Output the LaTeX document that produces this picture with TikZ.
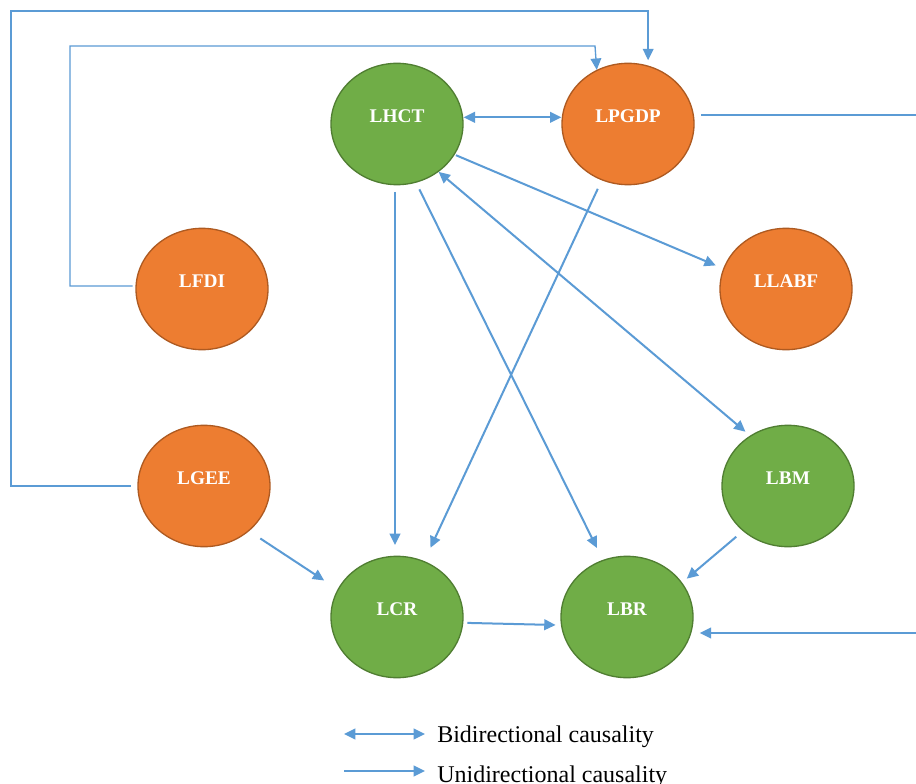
\documentclass[tikz,border=0pt]{standalone}
\usepackage{fontspec}
\setmainfont{Liberation Serif}
\usetikzlibrary{shapes.geometric,arrows.meta,calc}
\definecolor{gfill}{HTML}{70AD47}
\definecolor{gdraw}{HTML}{507E32}
\definecolor{ofill}{HTML}{ED7D31}
\definecolor{odraw}{HTML}{AE5A21}
\definecolor{lblue}{HTML}{5B9BD5}
\begin{document}
\begin{tikzpicture}[x=0.75pt,y=-0.75pt,
  var/.style={ellipse, minimum width=99pt, minimum height=91pt, inner sep=0pt, line width=1pt},
  lbl/.style={text=white, font=\fontsize{14.5}{16}\selectfont\bfseries, inner sep=0pt, yshift=5.8pt},
  gvar/.style={var, fill=gfill, draw=gdraw, label={[lbl]center:#1}},
  ovar/.style={var, fill=ofill, draw=odraw, label={[lbl]center:#1}},
  tip/.tip={Triangle[length=8.5pt,width=8pt]},
  conn/.style={draw=lblue, line width=1.5pt},
  uni/.style={conn, -tip},
  bi/.style={conn, tip-tip},
  thinline/.style={draw=lblue, line width=0.8pt},
  legtext/.style={anchor=base west, font=\fontsize{18}{20}\selectfont, inner sep=0pt}
]
\clip (0,0) rectangle (916,784);
\fill[white] (0,0) rectangle (916,784);

\node[gvar=LHCT]  (LHCT)  at (397,124) {};
\node[ovar=LPGDP] (LPGDP) at (628,124) {};
\node[ovar=LFDI]  (LFDI)  at (202,289) {};
\node[ovar=LLABF] (LLABF) at (786,289) {};
\node[ovar=LGEE]  (LGEE)  at (204,486) {};
\node[gvar=LBM]   (LBM)   at (788,486) {};
\node[gvar=LCR]   (LCR)   at (397,617) {};
\node[gvar=LBR]   (LBR)   at (627,617) {};

\coordinate (oc) at (11,11);
\coordinate (ic) at (70,46);
\coordinate (ik) at (595,46);
\coordinate (rt) at (916,115);
\coordinate (rb) at (916,633);

% internal arrows
\draw[bi] ([yshift=5pt]LHCT.east) -- ([yshift=5pt]LPGDP.west);
\draw[uni, shorten <=1pt, shorten >=6pt] (LHCT.-28) -- (LLABF.162);
\draw[bi, shorten >=4.5pt] (LHCT.-49.5) -- (LBM.127.4);
\draw[uni, shorten <=5pt, shorten >=8pt] ([xshift=-1.5pt]LHCT.south) -- ([xshift=-1.5pt]LCR.north);
\draw[uni, shorten <=5.5pt, shorten >=10pt] (LHCT.-72.3) -- (LBR.113.5);
\draw[uni, shorten <=7pt, shorten >=11pt] (LPGDP.-115.8) -- (LCR.64.4);
\draw[uni, shorten <=10pt, shorten >=12pt] (LGEE.-45) -- (LCR.155.3);
\draw[uni, shorten <=6.5pt, shorten >=4.5pt] (LBM.-135) -- (LBR.32.8);
\draw[uni, shorten <=3pt, shorten >=4pt] (LCR.-5) -- (LBR.187);

% lines to the edges
\draw[thinline, shorten <=5pt] ([yshift=6.75pt]LPGDP.east) -- (rt);
\draw[uni, shorten >=4.5pt] (rb) -- (LBR.east |- rb);

% outer loops
\draw[draw=lblue, line width=1.2pt, -tip, shorten <=5pt, shorten >=4pt]
  (LGEE.west) -- (LGEE.west -| oc) -- (oc) -| (LPGDP.71);
\draw[draw=lblue, line width=1pt, -tip, shorten <=2pt]
  ([yshift=2.25pt]LFDI.west) -- ([yshift=2.25pt]LFDI.west -| ic) -- (ic) -- (ik) -- (LPGDP.120);

% legend
\coordinate (b1) at (344,734);
\coordinate (b2) at (425,734);
\coordinate (u1) at (344,771);
\coordinate (u2) at (425,771);
\draw[bi] (b1) -- (b2);
\draw[uni] (u1) -- (u2);
\node[legtext] (bt) at (437,742) {Bidirectional causality};
\node[legtext] (ut) at (437,782) {Unidirectional causality};
\end{tikzpicture}
\end{document}
